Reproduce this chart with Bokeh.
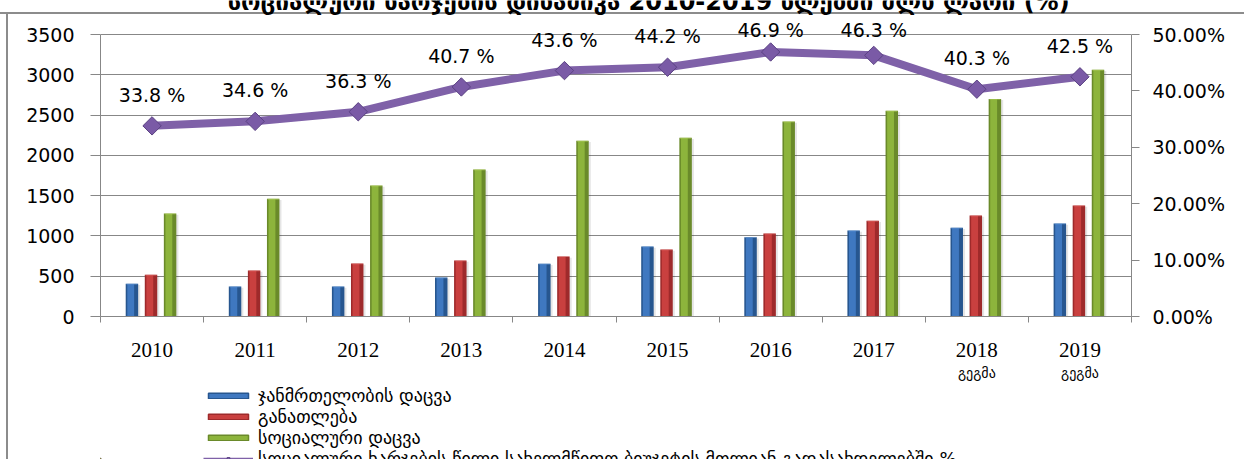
import numpy as np
from bokeh.plotting import figure
from bokeh.layouts import column
from bokeh.core.properties import value
from bokeh.models import (Range1d, LinearAxis, FixedTicker, NumeralTickFormatter, ColumnDataSource,
                          LabelSet, Label, Legend, LegendItem, Grid)
from bokeh.embed import file_html
from bokeh.resources import INLINE

# ---------------- data ----------------
years = ["2010", "2011", "2012", "2013", "2014", "2015", "2016", "2017", "2018", "2019"]
year_notes = ["", "", "", "", "", "", "", "", "გეგმა", "გეგმა"]
health = [405, 372, 372, 484, 654, 869, 984, 1067, 1101, 1154]
education = [517, 571, 658, 695, 745, 831, 1030, 1188, 1253, 1377]
social = [1278, 1460, 1626, 1824, 2180, 2218, 2420, 2553, 2701, 3061]
share_pct = [33.8, 34.6, 36.3, 40.7, 43.6, 44.2, 46.9, 46.3, 40.3, 42.5]
series_names = ["ჯანმრთელობის დაცვა", "განათლება", "სოციალური დაცვა",
                "სოციალური ხარჯების წილი სახელმწიფო ბიუჯეტის მთლიან გადასახდელებში %"]
left_ticks = [0, 500, 1000, 1500, 2000, 2500, 3000, 3500]
right_ticks = [0.0, 0.1, 0.2, 0.3, 0.4, 0.5]
title_text = "სოციალური ხარჯების დინამიკა 2010-2019 წლებში მლნ ლარი (%)"

# ---------------- layout constants ----------------
W = 1244
H_MAIN = 362
H_LEG = 459 - H_MAIN
PLOT_TOP = 34        # pixel row of the 3500 / 50% line
PLOT_BOTTOM = 316    # pixel row of the 0 line (frame starts at row 0)
LABEL_MIN_ROW = 29   # data labels are kept below this pixel row
GRAY = "#878787"
FONT = "DejaVu Sans"

n = len(years)
centers = np.arange(n) + 0.5
y_max = left_ticks[-1] * PLOT_BOTTOM / (PLOT_BOTTOM - PLOT_TOP)
pct_per_px = right_ticks[-1] / (PLOT_BOTTOM - PLOT_TOP)
pct_max = pct_per_px * PLOT_BOTTOM

p = figure(width=W, height=H_MAIN, output_backend="svg", toolbar_location=None,
           x_range=Range1d(0, n), y_range=Range1d(0, y_max),
           x_axis_type=None, y_axis_type=None,
           min_border_left=100, min_border_right=113, min_border_top=0, min_border_bottom=46,
           outline_line_color=None, background_fill_alpha=0, border_fill_alpha=0)
p.extra_y_ranges = {"pct": Range1d(0, pct_max)}

# axes
xaxis = LinearAxis(ticker=FixedTicker(ticks=list(centers), minor_ticks=list(range(n + 1))),
                   major_label_overrides={float(c): y for c, y in zip(centers, years)},
                   major_tick_line_color=None, major_tick_out=0, major_tick_in=0,
                   minor_tick_out=6, minor_tick_in=0, minor_tick_line_color=GRAY,
                   axis_line_color=GRAY, major_label_standoff=20,
                   major_label_text_font="Liberation Serif", major_label_text_font_size="21px",
                   major_label_text_color="black")
p.add_layout(xaxis, "below")

yaxis = LinearAxis(ticker=FixedTicker(ticks=left_ticks, minor_ticks=[]), bounds=(0, left_ticks[-1]),
                   axis_line_color=GRAY, major_tick_line_color=GRAY, major_tick_out=10, major_tick_in=0,
                   major_label_standoff=16, major_label_text_font=FONT,
                   major_label_text_font_size="19px", major_label_text_color="black")
p.add_layout(yaxis, "left")

raxis = LinearAxis(y_range_name="pct", ticker=FixedTicker(ticks=right_ticks, minor_ticks=[]),
                   bounds=(0, right_ticks[-1]),
                   formatter=NumeralTickFormatter(format="0.00%"),
                   axis_line_color=GRAY, major_tick_line_color=GRAY, major_tick_out=8, major_tick_in=0,
                   major_label_standoff=13, major_label_text_font=FONT,
                   major_label_text_font_size="19px", major_label_text_color="black")
p.add_layout(raxis, "right")

p.add_layout(Grid(dimension=1, ticker=yaxis.ticker, grid_line_color=GRAY, grid_line_width=1))

# bars
bw = 0.121
offsets = [-0.195, -0.01, 0.175]
bar_series = [health, education, social]
base_cols = ["#27568F", "#9E2A2B", "#6A8A2A"]
mid_cols = ["#3F78C0", "#C9403F", "#8DB43C"]
cap_cols = ["#6FA6E6", "#EE7A78", "#C6E36D"]
for vals, off, bc, mc, cc in zip(bar_series, offsets, base_cols, mid_cols, cap_cols):
    xs = centers + off
    v = np.array(vals, dtype=float)
    p.vbar(x=xs + 0.02, top=v - 15, width=bw, bottom=0,
           fill_color="#000000", fill_alpha=0.10, line_color=None)
    p.vbar(x=xs, top=v, width=bw, bottom=0, fill_color=bc, line_color=None)
    p.vbar(x=xs - 0.012, top=v - 6, width=bw * 0.55, bottom=0, fill_color=mc, line_color=None)
    p.vbar(x=xs, top=v, bottom=v - 8, width=bw * 0.9, fill_color=cc, fill_alpha=0.7, line_color=None)

# share line
share = np.array(share_pct) / 100.0
label_y = np.minimum(share + 31 * pct_per_px, pct_per_px * (PLOT_BOTTOM - LABEL_MIN_ROW))
pct_src = ColumnDataSource(dict(x=centers, y=share, ly=label_y,
                                label=[f"{v:.1f} %" for v in share_pct]))
p.line(x="x", y="y", source=pct_src, y_range_name="pct",
       line_width=8, line_color="#7F61A8", line_join="round")
p.scatter(x="x", y="y", source=pct_src, y_range_name="pct", marker="square",
          angle=np.pi / 4, size=13, fill_color="#7A5AA6", line_color="#5B4283")

p.add_layout(LabelSet(x="x", y="ly", text="label", source=pct_src, y_range_name="pct",
                      text_align="center", text_baseline="middle",
                      text_font=value(FONT), text_font_size=value("19px"), text_color="black"))

# title (cut at the top edge, as in the source)
p.add_layout(Label(x=548, y=PLOT_BOTTOM - 1, x_units="screen", y_units="screen", text=title_text,
                   text_align="center", text_baseline="alphabetic",
                   text_font=FONT, text_font_style="bold", text_font_size="24px",
                   text_color="black"))

# ---------------- lower strip: plan notes + legend ----------------
q = figure(width=W, height=H_LEG, output_backend="svg", toolbar_location=None,
           x_range=p.x_range, y_range=Range1d(0, H_LEG),
           x_axis_type=None, y_axis_type=None,
           min_border_left=100, min_border_right=113, min_border_top=0, min_border_bottom=0,
           outline_line_color=None, background_fill_alpha=0, border_fill_alpha=0)
q.xgrid.visible = False
q.ygrid.visible = False

note_x = [c for c, t in zip(centers, year_notes) if t]
note_t = [t for t in year_notes if t]
note_src = ColumnDataSource(dict(x=note_x, y=[H_LEG - 10] * len(note_t), t=note_t))
q.add_layout(LabelSet(x="x", y="y", text="t", source=note_src, text_align="center",
                      text_baseline="middle", text_font=value(FONT), text_font_size=value("14px"),
                      text_color="black"))

# legend glyph renderers (single point placed outside the visible range)
leg_r = []
for bc, mc in zip(base_cols, mid_cols):
    leg_r.append(q.vbar(x=[-5], top=[1], width=0.1, fill_color=mc, line_color=bc, line_width=1.5))
leg_line = q.line(x=[-6, -5], y=[1, 1], line_width=2.5, line_color="#7F61A8")
leg_mark = q.scatter(x=[-5], y=[1], marker="square", angle=np.pi / 4, size=10,
                     fill_color="#7A5AA6", line_color="#5B4283")

legend = Legend(items=[LegendItem(label=series_names[0], renderers=[leg_r[0]]),
                       LegendItem(label=series_names[1], renderers=[leg_r[1]]),
                       LegendItem(label=series_names[2], renderers=[leg_r[2]]),
                       LegendItem(label=series_names[3], renderers=[leg_line, leg_mark])],
                location=(103, -10), orientation="vertical",
                glyph_width=50, glyph_height=7, label_height=20, spacing=0,
                padding=0, margin=0, label_standoff=5,
                border_line_color=None, background_fill_alpha=0,
                label_text_font=FONT, label_text_font_size="18px",
                label_text_color="black")
q.add_layout(legend, "center")

border = ("linear-gradient(#8C8C8C,#8C8C8C) 0px 12px / 100% 2px no-repeat, "
          "linear-gradient(#8C8C8C,#8C8C8C) 6px 12px / 2px 100% no-repeat, white")
layout = column(p, q, spacing=0, styles={"background": border})

open("out.html", "w").write(file_html(layout, INLINE))
